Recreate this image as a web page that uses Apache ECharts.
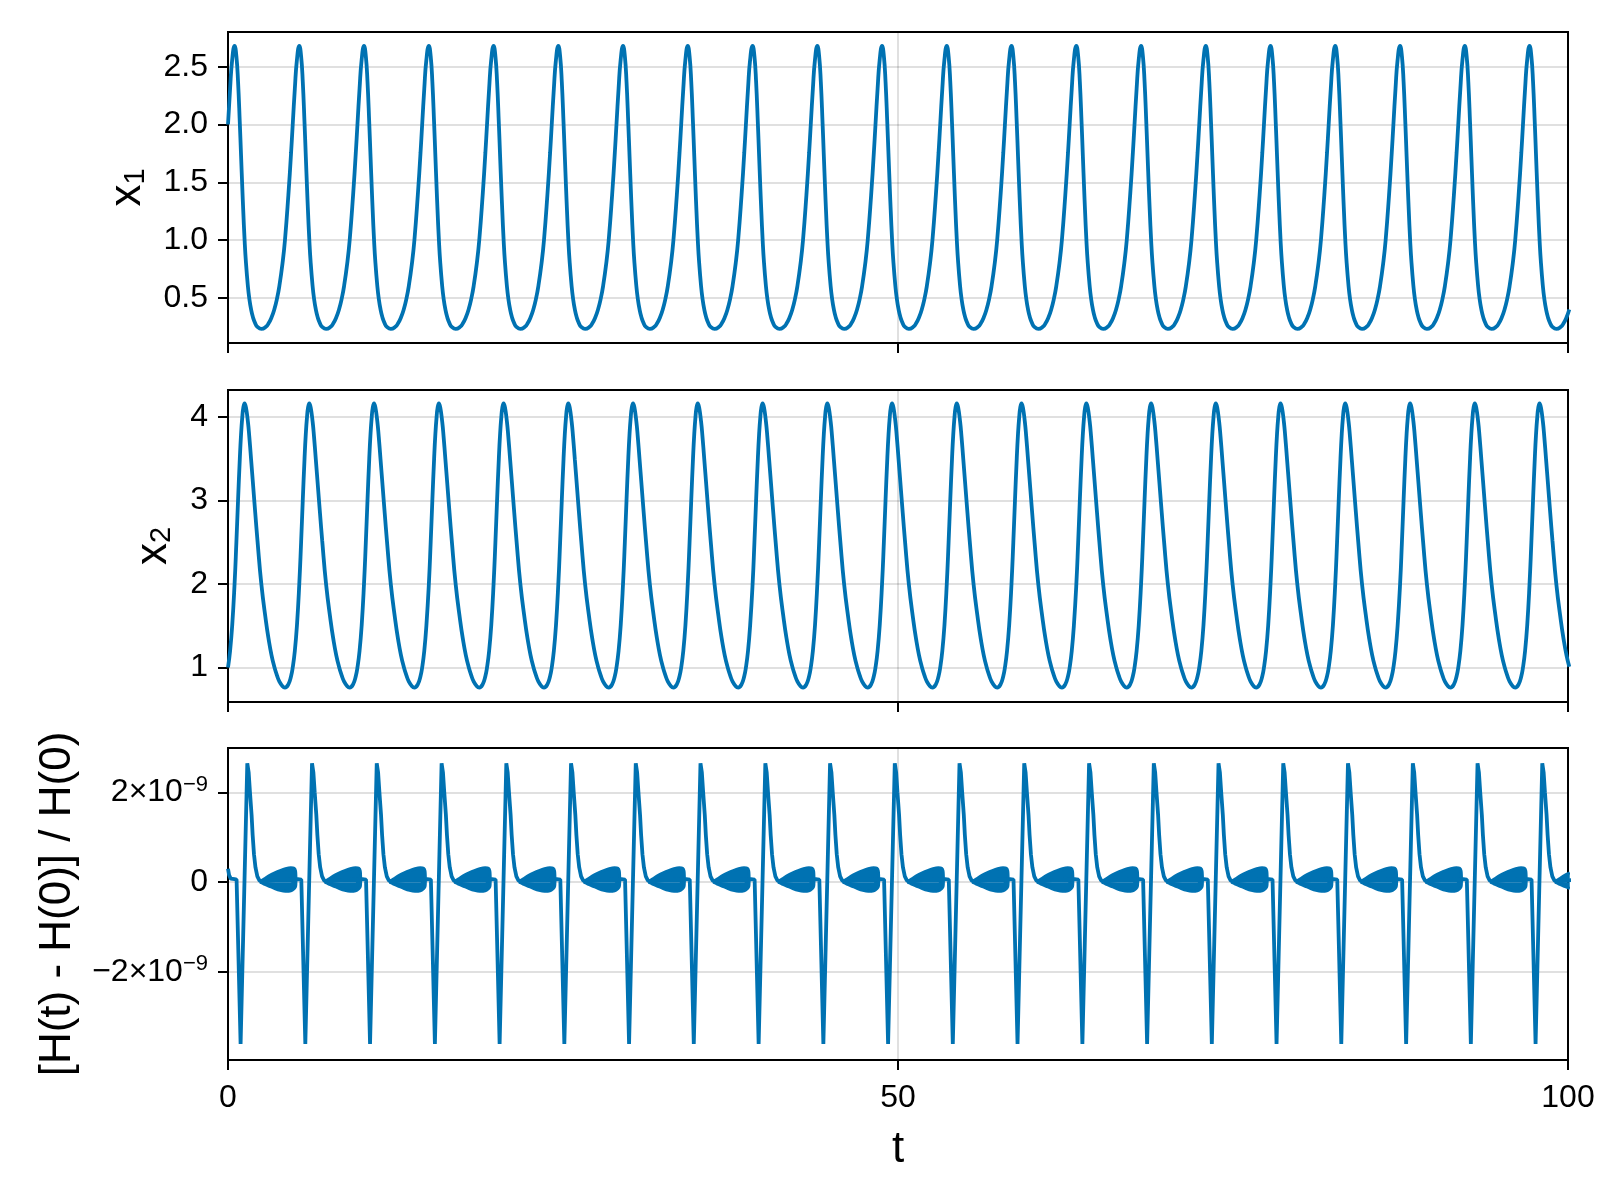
<!DOCTYPE html>
<html>
<head>
<meta charset="utf-8">
<script src="https://cdn.jsdelivr.net/npm/echarts@6/dist/echarts.min.js"></script>
<style>
html,body{margin:0;padding:0;background:#fff;}
#chart{width:1600px;height:1200px;}
</style>
</head>
<body>
<div id="chart"></div>
<script>
// ---------------- data ----------------
// times of the x1 maxima (one per cycle)
const peakTimes = [0.49, 5.32, 10.15, 14.99, 19.82, 24.65, 29.48, 34.31, 39.15, 43.98,
                   48.81, 53.64, 58.47, 63.31, 68.14, 72.97, 77.80, 82.63, 87.47, 92.30, 97.13];
// one cycle of the solution, offsets measured from an x1 maximum
const cycleOffsets = [0, 0.136, 0.26, 0.392, 0.488, 0.578, 0.646, 0.749, 0.853, 0.996,
                      1.095, 1.233, 1.378, 1.543, 1.709, 1.998, 2.337, 2.541, 2.756, 2.965,
                      3.178, 3.339, 3.579, 3.761, 4.015, 4.22, 4.34, 4.498, 4.654];
const x1Cycle = [2.68, 2.59, 2.37, 2.01, 1.72, 1.45, 1.26, 1.00, 0.80, 0.60,
                 0.50, 0.40, 0.33, 0.28, 0.25, 0.232, 0.25, 0.28, 0.33, 0.40,
                 0.50, 0.60, 0.80, 1.00, 1.39, 1.76, 2.00, 2.31, 2.56];
const x2Cycle = [2.00, 2.50, 3.00, 3.50, 3.80, 4.00, 4.10, 4.16, 4.11, 3.94,
                 3.77, 3.49, 3.19, 2.85, 2.52, 2.00, 1.56, 1.34, 1.15, 1.01,
                 0.90, 0.835, 0.776, 0.761, 0.80, 0.90, 1.00, 1.20, 1.50];
// start of the run (before the first x1 maximum)
const startTimes = [0, 0.156, 0.312];
const x1Start = [2.00, 2.31, 2.56];
const x2Start = [1.00, 1.20, 1.50];

// relative energy error [H(t) - H(0)] / H(0)
const hStartTimes = [0, 0.08, 0.2, 0.49];
const hStartValues = [0.30e-9, 0.16e-9, 0.08e-9, 0.07e-9];
const hCycleOffsets = [0, 0.15, 0.45, 0.95, 1.05, 1.15, 1.27, 1.35, 1.45, 1.56,
                       1.70, 1.85, 2.0, 2.6, 3.2, 3.8, 4.3, 4.55, 4.62, 4.72];
const hCycleValues = [0.06e-9, 0.06e-9, -3.6e-9, 2.65e-9, 2.45e-9, 2.0e-9, 1.5e-9, 1.05e-9, 0.62e-9, 0.33e-9,
                      0.13e-9, 0.04e-9, 0.01e-9, 0.03e-9, 0.05e-9, 0.06e-9, 0.07e-9, 0.05e-9, 0.08e-9, 0.07e-9];
// envelope of the fast oscillation band in each cycle
const bandOffsets = [1.9, 2.2, 2.6, 3.0, 3.4, 3.8, 4.2, 4.45, 4.55, 4.58];
const bandUpper = [0.02e-9, 0.07e-9, 0.15e-9, 0.21e-9, 0.26e-9, 0.30e-9, 0.32e-9, 0.31e-9, 0.25e-9, 0.05e-9];
const bandLower = [0.0, -0.04e-9, -0.09e-9, -0.14e-9, -0.18e-9, -0.20e-9, -0.19e-9, -0.14e-9, -0.10e-9, 0.03e-9];

// axis tick values
const x1Ticks = [0.5, 1.0, 1.5, 2.0, 2.5];
const x2Ticks = [1, 2, 3, 4];
const hTicks = [-2e-9, 0, 2e-9];

// ---------------- build series data ----------------
const T_END = 100;
function buildSeries(sT, sV, peaks, offs, vals) {
  const out = [];
  for (let i = 0; i < sT.length; i++) out.push([sT[i], sV[i]]);
  let done = false;
  for (const tp of peaks) {
    for (let j = 0; j < offs.length; j++) {
      const t = tp + offs[j];
      out.push([+t.toFixed(4), vals[j]]);
      if (t > T_END) { done = true; break; }
    }
    if (done) break;
  }
  return out;
}
function buildBand(peaks, offs, vals) {
  const out = [];
  for (const tp of peaks) {
    let done = false;
    for (let j = 0; j < offs.length; j++) {
      const t = tp + offs[j];
      out.push([+t.toFixed(4), vals[j]]);
      if (t > T_END) { done = true; break; }
    }
    out.push([+(tp + offs[offs.length - 1] + 0.01).toFixed(4), '-']);
    if (done) break;
  }
  return out;
}
const x1Data = buildSeries(startTimes, x1Start, peakTimes, cycleOffsets, x1Cycle);
const x2Data = buildSeries(startTimes, x2Start, peakTimes, cycleOffsets, x2Cycle);
const hData = buildSeries(hStartTimes, hStartValues, peakTimes, hCycleOffsets, hCycleValues);
const hUpData = buildBand(peakTimes, bandOffsets, bandUpper);
const hLoData = buildBand(peakTimes, bandOffsets, bandLower);

// ---------------- chart ----------------
const FONT = '"Liberation Sans", Arimo, "DejaVu Sans", sans-serif';
const BLUE = '#0072b2';
const GRIDC = 'rgba(0,0,0,0.12)';
const LW = 3.8;
const chart = echarts.init(document.getElementById('chart'), null, {renderer: 'canvas'});

const grids = [
  {left: 228, right: 32, top: 32, height: 311},
  {left: 228, right: 32, top: 390, height: 312},
  {left: 228, right: 32, top: 748, height: 312}
].map(g => Object.assign({show: true, borderColor: '#000', borderWidth: 2, backgroundColor: 'transparent', containLabel: false}, g));

function xAxisFor(i, withLabels) {
  return {
    gridIndex: i, type: 'value', min: 0, max: 100, interval: 50,
    axisLine: {show: false, onZero: false},
    axisTick: {show: true, inside: false, length: 10, lineStyle: {color: '#000', width: 2}},
    axisLabel: {show: withLabels, fontSize: 32, color: '#000', fontFamily: FONT, margin: 22},
    splitLine: {show: true, lineStyle: {color: GRIDC, width: 2}},
    name: withLabels ? 't' : '',
    nameLocation: 'middle', nameGap: 68,
    nameTextStyle: {fontSize: 44, color: '#000', fontFamily: FONT}
  };
}
function yAxisFor(i, min, max, ticks, splitNumber, name, nameGap, rich, formatter) {
  return {
    gridIndex: i, type: 'value', min: min, max: max, splitNumber: splitNumber,
    axisLine: {show: false, onZero: false},
    axisTick: {show: true, inside: false, length: 10, lineStyle: {color: '#000', width: 2}, customValues: ticks},
    axisLabel: {show: true, fontSize: 32, color: '#000', fontFamily: FONT, margin: 20,
                customValues: ticks, formatter: formatter, rich: rich},
    splitLine: {show: true, lineStyle: {color: GRIDC, width: 2}},
    name: name, nameLocation: 'middle', nameGap: nameGap, nameRotate: 90,
    nameTextStyle: {fontSize: 44, color: '#000', fontFamily: FONT,
      rich: {v: {fontSize: 44, fontFamily: FONT, color: '#000'},
             s: {fontSize: 29, fontFamily: FONT, color: '#000', padding: [16, 0, 0, 0]}}}
  };
}
const supRich = {
  b: {fontSize: 32, fontFamily: FONT, color: '#000'},
  s: {fontSize: 22, fontFamily: FONT, color: '#000', padding: [0, 0, 16, 0]}
};
function hFormatter(v) {
  const n = Math.round(v * 1e9);
  if (n === 0) return '0';
  return '{b|' + (n < 0 ? '\u2212' : '') + Math.abs(n) + '\u00d710}{s|\u22129}';
}
function plainFmt(v) { return (Math.round(v * 10) / 10).toFixed(1); }
function intFmt(v) { return String(Math.round(v)); }

const lineBase = {type: 'line', showSymbol: false, symbol: 'none', clip: true, animation: false,
                  lineStyle: {color: BLUE, width: LW}, itemStyle: {color: BLUE}};

chart.setOption({
  animation: false,
  backgroundColor: '#fff',
  grid: grids,
  xAxis: [xAxisFor(0, false), xAxisFor(1, false), xAxisFor(2, true)],
  yAxis: [
    yAxisFor(0, 0.11, 2.80, x1Ticks, 5, '{v|x}{s|1}', 78, undefined, plainFmt),
    yAxisFor(1, 0.588, 4.32, x2Ticks, 4, '{v|x}{s|2}', 52, undefined, intFmt),
    yAxisFor(2, -3.96e-9, 2.99e-9, hTicks, 3, '[H(t) - H(0)] / H(0)', 148, supRich, hFormatter)
  ],
  series: [
    Object.assign({}, lineBase, {name: 'x1', xAxisIndex: 0, yAxisIndex: 0, data: x1Data, smooth: true}),
    Object.assign({}, lineBase, {name: 'x2', xAxisIndex: 1, yAxisIndex: 1, data: x2Data, smooth: true}),
    Object.assign({}, lineBase, {name: 'band upper', xAxisIndex: 2, yAxisIndex: 2, data: hUpData, smooth: 0.3,
      lineStyle: {color: BLUE, width: 3}, areaStyle: {color: BLUE, opacity: 1}, connectNulls: false}),
    Object.assign({}, lineBase, {name: 'band lower', xAxisIndex: 2, yAxisIndex: 2, data: hLoData, smooth: 0.3,
      lineStyle: {color: BLUE, width: 3}, areaStyle: {color: BLUE, opacity: 1}, connectNulls: false}),
    Object.assign({}, lineBase, {name: 'H error', xAxisIndex: 2, yAxisIndex: 2, data: hData})
  ]
});
</script>
</body>
</html>
